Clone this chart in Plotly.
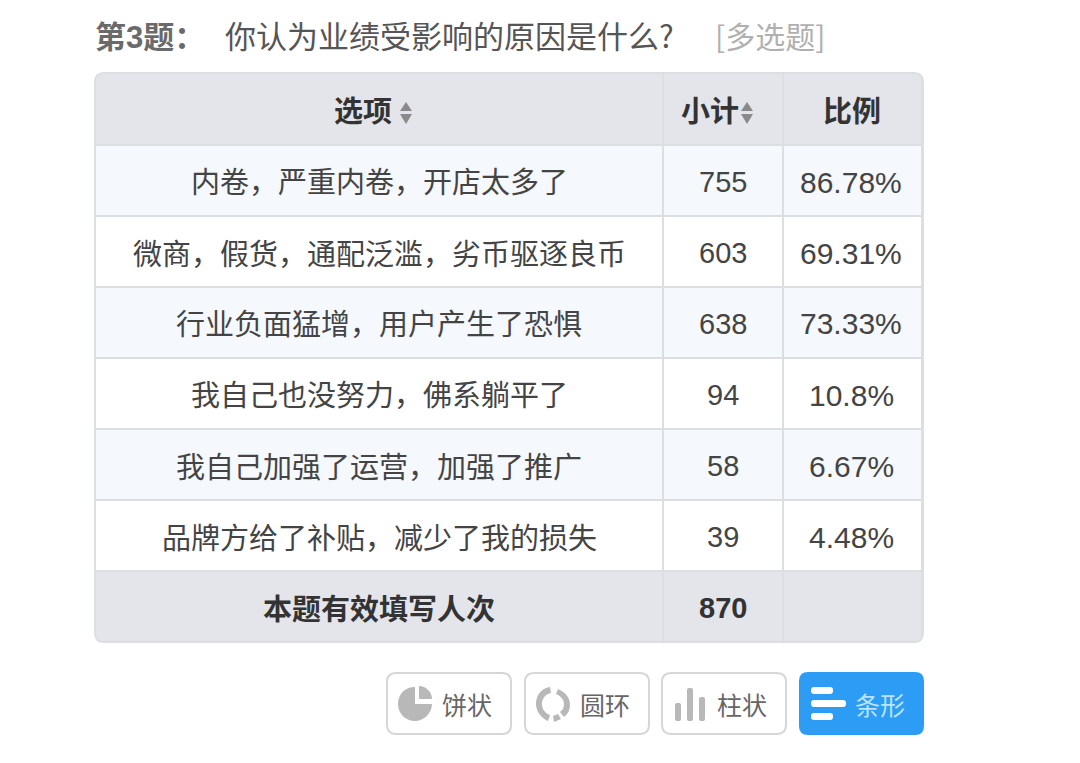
import plotly.graph_objects as go

W = 1080
H = 763

options = ['内卷，严重内卷，开店太多了', '微商，假货，通配泛滥，劣币驱逐良币', '行业负面猛增，用户产生了恐惧',
           '我自己也没努力，佛系躺平了', '我自己加强了运营，加强了推广', '品牌方给了补贴，减少了我的损失']
counts = [755, 603, 638, 94, 58, 39]
shares = ['86.78%', '69.31%', '73.33%', '10.8%', '6.67%', '4.48%']
total_label = '本题有效填写人次'
total_count = 870
headers = ['选项', '小计', '比例']
buttons = ['饼状', '圆环', '柱状', '条形']

CJK = 'Noto Sans CJK SC'
NUM = 'Liberation Sans, Noto Sans CJK SC'
HEAD_BG = '#e3e5eb'
STRIPE = '#f5f8fc'
LINE = '#dcdfe2'
GREY = '#b8b8b8'
BLUE = '#2d9cf4'


def px(x):
    return x / W


def py(y):
    return 1 - y / H


def pt(x, y):
    return f'{px(x):.5f},{py(y):.5f}'


def round_rect(x0, y0, x1, y1, r):
    return (f'M{pt(x0 + r, y0)} L{pt(x1 - r, y0)} Q{pt(x1, y0)} {pt(x1, y0 + r)} '
            f'L{pt(x1, y1 - r)} Q{pt(x1, y1)} {pt(x1 - r, y1)} '
            f'L{pt(x0 + r, y1)} Q{pt(x0, y1)} {pt(x0, y1 - r)} '
            f'L{pt(x0, y0 + r)} Q{pt(x0, y0)} {pt(x0 + r, y0)} Z')


def path(d, fill=None, line=None, width=0):
    return dict(type='path', xref='paper', yref='paper', path=d, fillcolor=fill,
                line=dict(color=line, width=width), layer='above')


def note(x, y, text, size, color, font=CJK, anchor='left'):
    return dict(xref='paper', yref='paper', x=px(x), y=py(y), text=text, showarrow=False,
                xanchor=anchor, yanchor='middle', font=dict(family=font, size=size, color=color))


row_fill = [STRIPE, 'white', STRIPE, 'white', STRIPE, 'white', HEAD_BG]
blank = [''] * 7

# the table only gives the grid, plotly pins cell text to the top so the text goes on as annotations
fig = go.Figure(go.Table(
    domain=dict(x=[px(95), px(923)], y=[py(642), py(73)]),
    columnwidth=[569, 120, 139],
    header=dict(values=['', '', ''], height=72, fill_color=HEAD_BG, line=dict(color=LINE, width=2)),
    cells=dict(values=[blank, blank, blank], height=71,
               fill_color=[row_fill] * 3, line=dict(color=LINE, width=2)),
))

shapes = []
# rounded table corners
x0, y0, x1, y1, r = 95, 73, 923, 642, 9
for cx, cy, sx, sy in [(x0, y0, 1, 1), (x1, y0, -1, 1), (x1, y1, -1, -1), (x0, y1, 1, -1)]:
    shapes.append(path(f'M{pt(cx - sx, cy - sy)} L{pt(cx + r * sx, cy - sy)} L{pt(cx + r * sx, cy)} '
                       f'Q{pt(cx, cy)} {pt(cx, cy + r * sy)} L{pt(cx - sx, cy + r * sy)} Z', fill='white'))
shapes.append(path(round_rect(x0, y0, x1, y1, r), line=LINE, width=2))

# sort arrows in the header
for cx in [406, 747]:
    shapes.append(path(f'M{pt(cx - 6, 111)} L{pt(cx, 102)} L{pt(cx + 6, 111)} Z', fill='#8a8a8a'))
    shapes.append(path(f'M{pt(cx - 6, 114)} L{pt(cx, 124)} L{pt(cx + 6, 114)} Z', fill='#8a8a8a'))

# buttons
btn_x = [(387, 511), (525, 649), (662, 786), (799, 924)]
for i, (bx0, bx1) in enumerate(btn_x):
    if i == 3:
        shapes.append(path(round_rect(bx0, 672, bx1, 735, 9), fill=BLUE))
    else:
        shapes.append(path(round_rect(bx0, 673, bx1, 734, 9), fill='white', line='#d6d6d6', width=2))

# pie icon
shapes.append(path(f'M{pt(415, 687)} C{pt(405, 687)} {pt(398, 694)} {pt(398, 704)} '
                   f'C{pt(398, 713)} {pt(405, 721)} {pt(415, 721)} '
                   f'C{pt(424, 721)} {pt(432, 713)} {pt(432, 704)} L{pt(415, 704)} Z', fill=GREY))
shapes.append(path(f'M{pt(419, 686)} C{pt(426, 686)} {pt(432, 692)} {pt(432, 699)} L{pt(419, 699)} Z', fill=GREY))
# ring icon
shapes.append(path(f'M{pt(550, 687)} C{pt(541, 688)} {pt(536, 696)} {pt(536, 704)} '
                   f'C{pt(536, 711)} {pt(541, 718)} {pt(548, 721)} L{pt(550, 715)} '
                   f'C{pt(545, 713)} {pt(542, 709)} {pt(542, 704)} '
                   f'C{pt(542, 698)} {pt(546, 694)} {pt(551, 693)} Z', fill=GREY))
shapes.append(path(f'M{pt(558, 689)} C{pt(565, 692)} {pt(570, 697)} {pt(570, 705)} '
                   f'C{pt(570, 710)} {pt(568, 714)} {pt(564, 717)} L{pt(560, 712)} '
                   f'C{pt(563, 710)} {pt(564, 707)} {pt(564, 704)} '
                   f'C{pt(564, 700)} {pt(561, 696)} {pt(556, 694)} Z', fill=GREY))
shapes.append(path(f'M{pt(553, 716)} L{pt(558, 714)} L{pt(561, 719)} L{pt(554, 722)} Z', fill=GREY))
# column icon
for bx, by in [(675, 703), (687, 688), (699, 697)]:
    shapes.append(path(round_rect(bx, by, bx + 6, 721, 2), fill=GREY))
# bar icon
for bx, by in [(833, 687), (846, 700), (833, 713)]:
    shapes.append(path(round_rect(811, by, bx, by + 7, 3), fill='white'))

annotations = [
    note(93, 35, '<b>第<span style="font-family:Liberation Sans">3</span>题：</b>', 31, '#6a6a6a'),
    note(223, 34, '你认为业绩受影响的原因是什么?', 31, '#555555'),
    note(713, 35, '[多选题]', 30, '#b0b0b0'),
    note(363, 109.5, f'<b>{headers[0]}</b>', 29, '#333333', anchor='center'),
    note(710, 109.5, f'<b>{headers[1]}</b>', 29, '#333333', anchor='center'),
    note(852, 109.5, f'<b>{headers[2]}</b>', 29, '#333333', anchor='center'),
]
for i in range(len(options)):
    y = 182 + 71 * i
    annotations.append(note(379, y - 1.5, options[i], 29, '#444444', anchor='center'))
    annotations.append(note(723, y, str(counts[i]), 29, '#444444', font=NUM, anchor='center'))
    annotations.append(note(851, y, shares[i], 30, '#444444', font=NUM, anchor='center'))
annotations.append(note(379, 606.5, f'<b>{total_label}</b>', 29, '#333333', anchor='center'))
annotations.append(note(723, 608, f'<b>{total_count}</b>', 29, '#333333', font=NUM, anchor='center'))

btn_text = [467, 605, 742, 880]
for name, x, color in zip(buttons, btn_text, ['#666666', '#666666', '#666666', '#bfe3ff']):
    annotations.append(note(x, 704, name, 25, color, anchor='center'))

fig.update_layout(
    width=W, height=H, margin=dict(l=0, r=0, t=0, b=0),
    paper_bgcolor='white', plot_bgcolor='white',
    shapes=shapes, annotations=annotations,
)
fig.write_html('out.html', config=dict(displayModeBar=False),
               post_script="document.body.style.margin='0';document.body.style.overflow='hidden';")
